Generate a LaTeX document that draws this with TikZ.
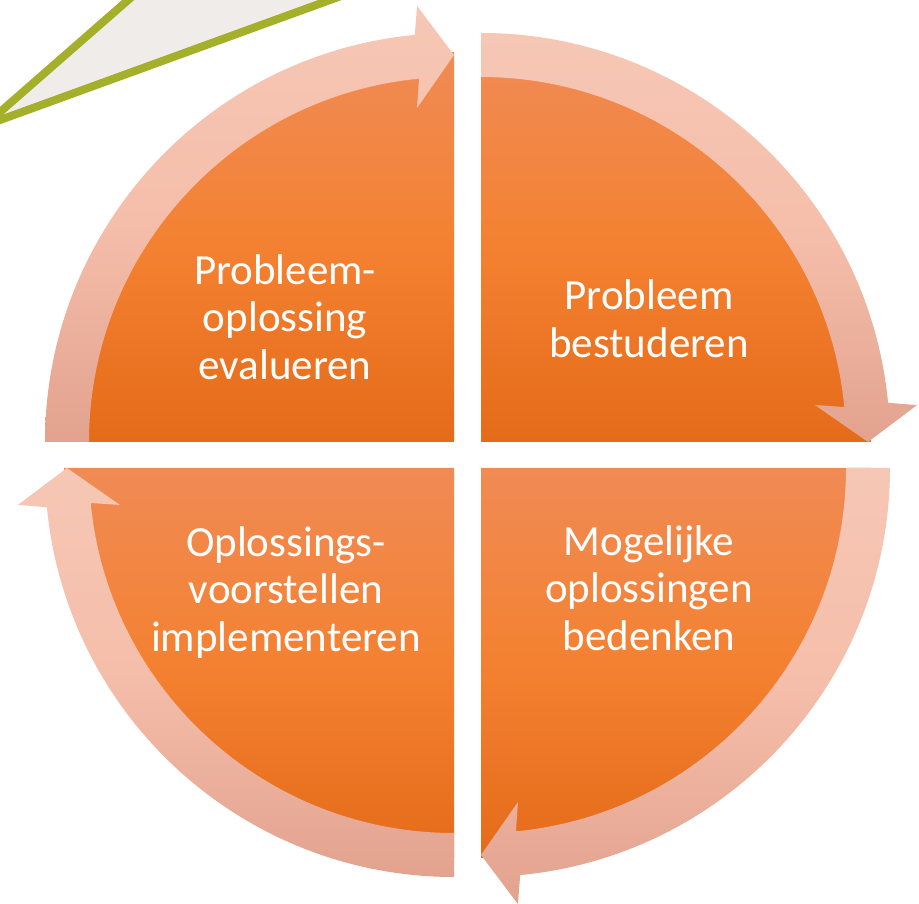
\documentclass[tikz,border=0pt]{standalone}
\usepackage{fontspec}
\setmainfont{Carlito}
\usetikzlibrary{positioning}
\definecolor{quadtop}{HTML}{F08B55}
\definecolor{quadmid}{HTML}{F48131}
\definecolor{quadbot}{HTML}{E46B19}
\definecolor{arrowtop}{HTML}{F6C7B5}
\definecolor{arrowmid}{HTML}{F5BEAA}
\definecolor{arrowbot}{HTML}{E2A28E}
\definecolor{calloutline}{HTML}{A4B02A}
\definecolor{calloutfill}{HTML}{EFECE9}
\tikzstyle{quadrant} =[top color=quadtop, bottom color=quadbot, middle color=quadmid]
\tikzstyle{cyclearrow} =[top color=arrowtop, bottom color=arrowbot, middle color=arrowmid]
\tikzstyle{steplabel} =[text=white, align=center, inner sep=0pt, font=\fontsize{43}{47.5}\selectfont]
\tikzstyle{callout} =[draw=calloutline, fill=calloutfill, line width=8pt, line join=miter]

% quarter circle arrow around a corner: #1 corner, #2 rotation
\newcommand{\quarterarrow}[2]{%
  \begin{scope}[shift={(#1)}]
    \shade[cyclearrow] ({90+#2}:409) arc[start angle={90+#2}, end angle={5.5+#2}, radius=409]
      -- ({4.84+#2}:437.6) -- (#2:387) -- ({6.32+#2}:336) -- ({5.5+#2}:365)
      arc[start angle={5.5+#2}, end angle={90+#2}, radius=365] -- cycle;
  \end{scope}}

\begin{document}
\begin{tikzpicture}[x=1pt,y=1pt]
  \useasboundingbox (0,0) rectangle (919,903);
  \begin{scope}
    \clip (0,0) rectangle (919,903);
    \draw[callout] (-15.6,777.3) -- (151,923) -- (385,923) -- cycle;
  \end{scope}

  \coordinate (tr) at (481,461);
  \coordinate (tl) at (454,461);
  \coordinate (bl) at (454,435);
  \coordinate (br) at (481,435);

  \foreach \c/\a in {tr/0, tl/90, bl/180, br/270}
    \shade[quadrant] (\c) -- ++({\a+90}:390) arc[start angle={\a+90}, end angle=\a, radius=390] -- cycle;

  \quarterarrow{tr}{0}
  \quarterarrow{tl}{90}
  \quarterarrow{bl}{180}
  \quarterarrow{br}{270}

  \node[steplabel] (bestuderen) at (649,584.5) {Probleem\\bestuderen};
  \node[steplabel] (bedenken) at (649,315) {Mogelijke\\oplossingen\\bedenken};
  \node[steplabel] (implementeren) at (286,310.7) {Oplossings-\\voorstellen\\implementeren};
  \node[steplabel] (evalueren) at (285,586) {Probleem-\\oplossing\\evalueren};
\end{tikzpicture}
\end{document}
